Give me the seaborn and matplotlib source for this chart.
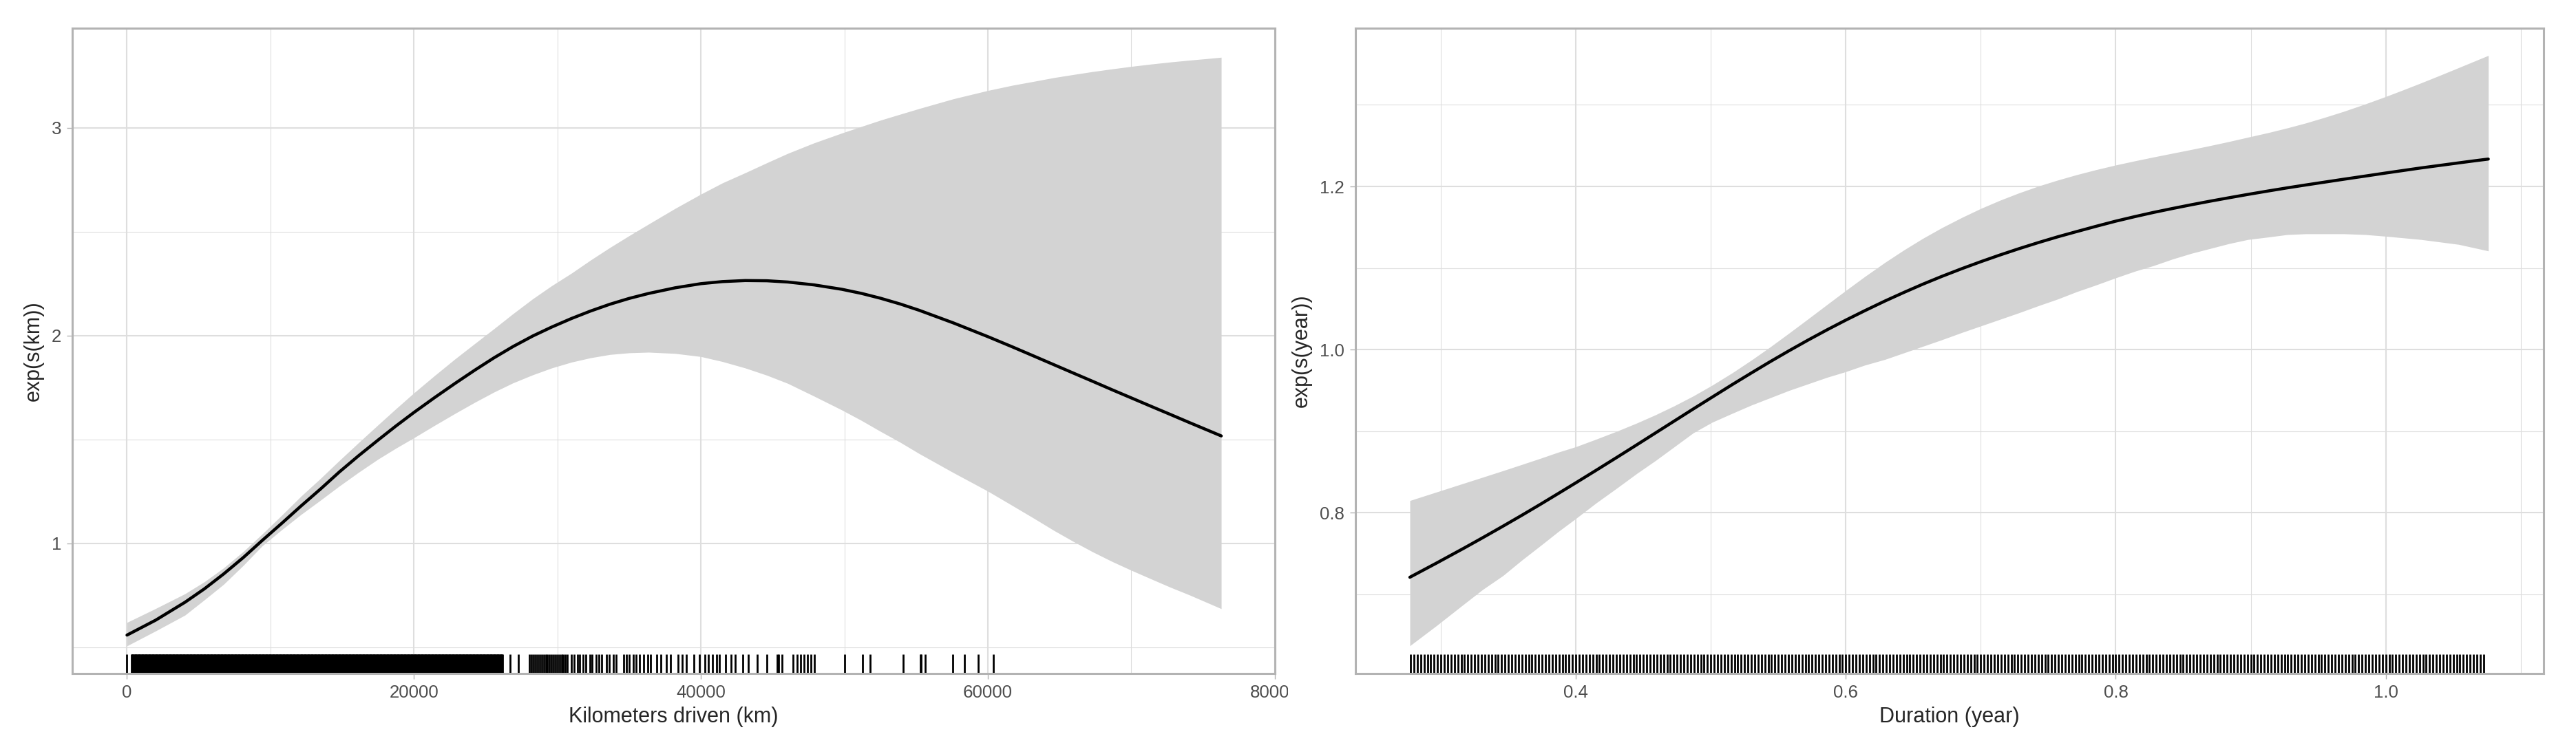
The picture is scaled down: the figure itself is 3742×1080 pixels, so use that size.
import numpy as np
import matplotlib
matplotlib.use("Agg")
import matplotlib.pyplot as plt
import seaborn as sns
from matplotlib.ticker import MultipleLocator
from matplotlib.transforms import Bbox, TransformedBbox

# ----- Data: smooth of km (response scale) -----
km_grid = [0, 2000, 4040, 5400, 6730, 8100, 9430, 10800, 12120, 13500, 14810, 16150,
           17500, 18750, 20000, 21450, 22890, 24250, 25580, 26900, 28280, 29600,
           30970, 32300, 33660, 35000, 36360, 38200, 40000, 41500, 43090, 44600,
           46050, 47900, 49820, 51200, 52510, 53900, 55210, 57600, 60000, 61700,
           63290, 64600, 65980, 67300, 68670, 70000, 71360, 72700, 74060, 75200, 76270]
km_fit = [0.558, 0.630, 0.716, 0.781, 0.852, 0.931, 1.014, 1.097, 1.179, 1.262, 1.344,
          1.422, 1.497, 1.565, 1.630, 1.702, 1.771, 1.834, 1.893, 1.947, 1.998, 2.041,
          2.082, 2.118, 2.151, 2.179, 2.203, 2.230, 2.250, 2.260, 2.265, 2.264,
          2.258, 2.244, 2.223, 2.203, 2.180, 2.152, 2.122, 2.061, 1.995, 1.946,
          1.899, 1.860, 1.819, 1.780, 1.739, 1.700, 1.660, 1.621, 1.581, 1.548, 1.517]
km_upper = [0.619, 0.686, 0.757, 0.815, 0.881, 0.960, 1.045, 1.136, 1.226, 1.313, 1.399,
            1.485, 1.570, 1.648, 1.724, 1.808, 1.889, 1.962, 2.033, 2.105, 2.177, 2.240,
            2.300, 2.363, 2.424, 2.481, 2.537, 2.612, 2.681, 2.735, 2.784, 2.832,
            2.877, 2.928, 2.975, 3.007, 3.037, 3.066, 3.093, 3.140, 3.180, 3.205,
            3.225, 3.242, 3.257, 3.271, 3.284, 3.296, 3.307, 3.317, 3.326, 3.333, 3.340]
km_lower = [0.506, 0.578, 0.654, 0.728, 0.802, 0.893, 0.988, 1.066, 1.138, 1.208, 1.276,
            1.342, 1.405, 1.458, 1.508, 1.568, 1.626, 1.679, 1.728, 1.772, 1.811, 1.844,
            1.872, 1.893, 1.909, 1.917, 1.920, 1.914, 1.899, 1.875, 1.844, 1.809,
            1.770, 1.708, 1.642, 1.591, 1.539, 1.486, 1.432, 1.340, 1.251, 1.182,
            1.117, 1.062, 1.008, 0.959, 0.912, 0.870, 0.829, 0.789, 0.751, 0.717, 0.685]

# rug of observed km: a solid block at low km, then thinning out
km_rug_dense = (300, 26200)
km_rug_mid = [0, 26700, 27300, 28050, 28200, 28350, 28480, 28600, 28750, 28900, 29050,
              29180, 29300, 29450, 29600, 29720, 29850, 30000, 30150, 30300, 30420,
              30550, 30700, 30950, 31150, 31400, 31550, 31800, 32000, 32250, 32400,
              32700, 32900, 33100, 33400, 33600, 33900, 34100, 34600, 34800, 35000,
              35300, 35500, 35700, 36000, 36300, 36500, 36900, 37200, 37600, 37900,
              38400, 38700, 39000, 39500, 39900, 40300, 40500, 40800, 41100, 41300,
              41700, 42100, 42400, 42900, 43300]
km_rug_tail = [43930, 44610, 45320, 45400, 45640, 46410, 46720, 46960, 47170, 47440,
               47680, 47920, 50030, 51280, 51810, 54080, 55280, 55330, 55650, 57570,
               58350, 59310, 60370]

# ----- Data: smooth of year (response scale) -----
year_grid = [0.277, 0.297, 0.317, 0.331, 0.346, 0.360, 0.374, 0.387, 0.400, 0.415,
             0.431, 0.445, 0.459, 0.473, 0.487, 0.501, 0.516, 0.530, 0.544, 0.558,
             0.572, 0.586, 0.600, 0.614, 0.629, 0.643, 0.657, 0.671, 0.686, 0.700,
             0.714, 0.728, 0.743, 0.757, 0.771, 0.785, 0.800, 0.814, 0.828, 0.842,
             0.856, 0.870, 0.884, 0.898, 0.913, 0.927, 0.941, 0.955, 0.969, 0.985,
             1.000, 1.013, 1.026, 1.040, 1.054, 1.065, 1.076]
year_fit = [0.7210, 0.7386, 0.7566, 0.7695, 0.7836, 0.7970, 0.8107, 0.8237, 0.8368,
            0.8521, 0.8686, 0.8832, 0.8979, 0.9126, 0.9273, 0.9418, 0.9573, 0.9714,
            0.9853, 0.9987, 1.0117, 1.0242, 1.0362, 1.0477, 1.0596, 1.0701, 1.0802,
            1.0897, 1.0993, 1.1078, 1.1159, 1.1236, 1.1314, 1.1383, 1.1447, 1.1510,
            1.1575, 1.1630, 1.1682, 1.1730, 1.1776, 1.1820, 1.1862, 1.1903, 1.1945,
            1.1983, 1.2019, 1.2054, 1.2089, 1.2128, 1.2165, 1.2196, 1.2227, 1.2258,
            1.2289, 1.2313, 1.2336]
year_upper = [0.8150, 0.8256, 0.8362, 0.8436, 0.8516, 0.8592, 0.8669, 0.8743, 0.8810,
              0.8902, 0.9004, 0.9099, 0.9201, 0.9312, 0.9432, 0.9564, 0.9717, 0.9871,
              1.0033, 1.0203, 1.0376, 1.0551, 1.0725, 1.0895, 1.1069, 1.1221, 1.1363,
              1.1493, 1.1620, 1.1730, 1.1829, 1.1919, 1.2006, 1.2078, 1.2144, 1.2204,
              1.2263, 1.2313, 1.2361, 1.2407, 1.2453, 1.2501, 1.2551, 1.2604, 1.2660,
              1.2717, 1.2779, 1.2848, 1.2921, 1.3012, 1.3102, 1.3184, 1.3268, 1.3361,
              1.3456, 1.3531, 1.3606]
year_lower = [0.637, 0.662, 0.688, 0.706, 0.723, 0.742, 0.760, 0.777, 0.793, 0.812,
              0.831, 0.848, 0.864, 0.881, 0.898, 0.911, 0.922, 0.932, 0.941, 0.950,
              0.958, 0.966, 0.973, 0.981, 0.988, 0.996, 1.004, 1.012, 1.021, 1.029,
              1.037, 1.045, 1.054, 1.062, 1.071, 1.079, 1.088, 1.096, 1.103, 1.111,
              1.118, 1.124, 1.130, 1.135, 1.138, 1.141, 1.142, 1.142, 1.142, 1.141,
              1.139, 1.137, 1.135, 1.132, 1.129, 1.125, 1.121]

# durations in the data are regularly spaced
year_rug_range = (0.2775, 1.0735, 0.0025)

sns.set_style("white")
plt.rcParams['font.family'] = ['Liberation Sans', 'DejaVu Sans']

BAND = "#D3D3D3"
GRID = "#DEDEDE"
BORDER = "#B3B3B3"
TICKTXT = "#4D4D4D"

fig = plt.figure(figsize=(18.71, 5.4), dpi=200)
ax1 = fig.add_axes([0.02806, 0.09352, 0.46686, 0.86852])
ax2 = fig.add_axes([0.52619, 0.09352, 0.46125, 0.86852])


def style(ax):
    ax.set_axisbelow(True)
    ax.grid(which="major", color=GRID, lw=0.75)
    ax.grid(which="minor", color=GRID, lw=0.4)
    for s in ax.spines.values():
        s.set_visible(True)
        s.set_color(BORDER)
        s.set_linewidth(1.1)
    ax.tick_params(which="major", length=2.75, width=0.5, color=BORDER,
                   labelsize=9.3, labelcolor=TICKTXT, pad=3,
                   bottom=True, left=True)
    ax.tick_params(which="minor", length=0)


# ----- left panel -----
ax1.fill_between(km_grid, km_lower, km_upper, color=BAND, lw=0)
sns.lineplot(x=km_grid, y=km_fit, color="black", lw=1.6, ax=ax1)
km_rug = np.concatenate([np.arange(km_rug_dense[0], km_rug_dense[1], 40),
                         km_rug_mid, km_rug_tail])
sns.rugplot(x=km_rug, height=0.03, color="black", lw=0.4, ax=ax1,
            expand_margins=False)
ax1.set_xlim(-3814, 80010)
ax1.set_ylim(0.373, 3.48)
ax1.set_xticks([0, 20000, 40000, 60000, 80000])
ax1.set_xticklabels(["0", "20000", "40000", "60000", "80000"])
ax1.xaxis.set_minor_locator(MultipleLocator(10000))
ax1.set_yticks([1, 2, 3])
ax1.yaxis.set_minor_locator(MultipleLocator(0.5))
ax1.set_xlabel("Kilometers driven (km)", fontsize=11, labelpad=3)
ax1.set_ylabel("exp(s(km))", fontsize=11, labelpad=4)
style(ax1)

# ----- right panel -----
ax2.fill_between(year_grid, year_lower, year_upper, color=BAND, lw=0)
sns.lineplot(x=year_grid, y=year_fit, color="black", lw=1.6, ax=ax2)
year_rug = np.arange(*year_rug_range)
sns.rugplot(x=year_rug, height=0.03, color="black", lw=0.3, ax=ax2,
            expand_margins=False)
ax2.set_xlim(0.2367, 1.117)
ax2.set_ylim(0.603, 1.394)
ax2.set_xticks([0.4, 0.6, 0.8, 1.0])
ax2.set_xticklabels(["0.4", "0.6", "0.8", "1.0"])
ax2.xaxis.set_minor_locator(MultipleLocator(0.1))
ax2.set_yticks([0.8, 1.0, 1.2])
ax2.set_yticklabels(["0.8", "1.0", "1.2"])
ax2.yaxis.set_minor_locator(MultipleLocator(0.1))
ax2.set_xlabel("Duration (year)", fontsize=11, labelpad=3)
ax2.set_ylabel("exp(s(year))", fontsize=11, labelpad=4)
style(ax2)

# left panel labels are cut at the panel's half of the figure
fig.canvas.draw()
clip = TransformedBbox(Bbox([[0, 0], [0.5, 1]]), fig.transFigure)
for tick in ax1.xaxis.get_major_ticks():
    tick.label1.set_clip_box(clip)
    tick.label1.set_clip_on(True)

fig.savefig("out.png", dpi=200, facecolor="white")
